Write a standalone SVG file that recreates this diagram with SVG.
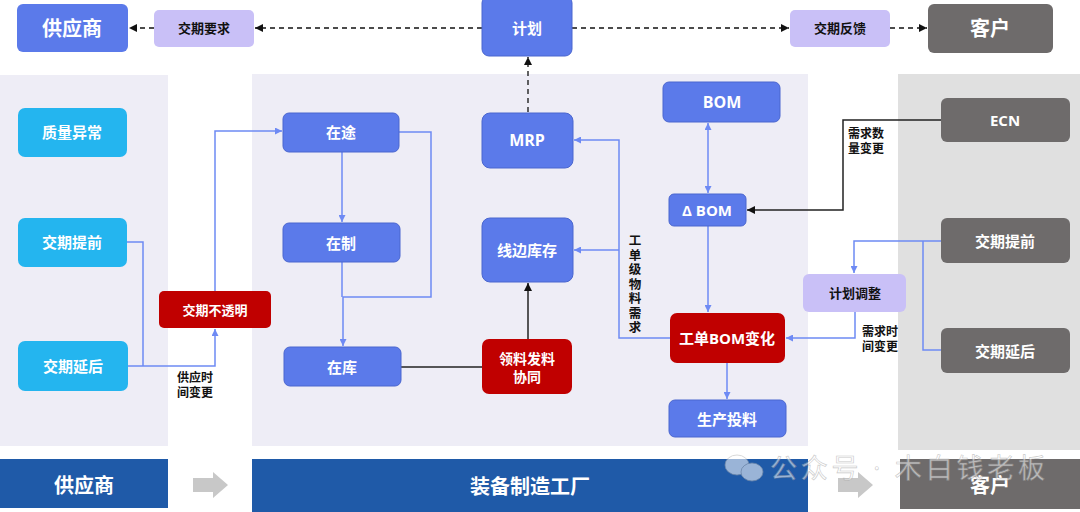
<svg xmlns="http://www.w3.org/2000/svg" width="1080" height="512" viewBox="0 0 1080 512">
<defs>
<style>
text{font-family:"Open Sans","Noto Sans CJK SC",sans-serif;font-weight:bold;text-anchor:middle;dominant-baseline:central}
.w{fill:#fff;font-size:15px}
.k{fill:#111;font-size:13px}
.lb{fill:#111;font-size:12px;text-anchor:start;dominant-baseline:auto}
.blue{fill:#5B7AEA;stroke:#4A66CF;stroke-width:1}
.cyan{fill:#24B5EF}
.red{fill:#C00000}
.lav{fill:#C9C0F7}
.gray{fill:#6E6B6B}
.bl{fill:none;stroke:#6E8AF4;stroke-width:1.5}
.bk{fill:none;stroke:#222;stroke-width:1.5}
.dash{fill:none;stroke:#111;stroke-width:1.3;stroke-dasharray:5 4}
.big{font-size:20px}
</style>
<marker id="ab" viewBox="0 0 10 10" refX="10" refY="5" markerWidth="7" markerHeight="7" orient="auto-start-reverse" markerUnits="userSpaceOnUse"><path d="M0,0L10,5L0,10z" fill="#6E8AF4"/></marker>
<marker id="ak" viewBox="0 0 10 10" refX="10" refY="5" markerWidth="8" markerHeight="8" orient="auto-start-reverse" markerUnits="userSpaceOnUse"><path d="M0,0L10,5L0,10z" fill="#111"/></marker>
</defs>
<rect width="1080" height="512" fill="#fff"/>
<g id="panels">
<rect x="0" y="75" width="168" height="371" fill="#EEEDF6"/>
<rect x="252" y="74" width="556" height="372" fill="#EEEDF6"/>
<rect x="898" y="74" width="182" height="376" fill="#E0E0E0"/>
</g>
<g id="connectors">
<path class="dash" d="M482,28H255" marker-end="url(#ak)"/>
<path class="dash" d="M154,28H129" marker-end="url(#ak)"/>
<path class="dash" d="M572,28H789" marker-end="url(#ak)"/>
<path class="dash" d="M890,28H927" marker-end="url(#ak)"/>
<path class="dash" d="M528,112V57" marker-end="url(#ak)"/>
<path class="bl" d="M127,242H143V366"/>
<path class="bl" d="M128,366H215V329" marker-end="url(#ab)"/>
<path class="bl" d="M215,291V131H282" marker-end="url(#ab)"/>
<path class="bl" d="M342,152V222" marker-end="url(#ab)"/>
<path class="bl" d="M342,262V297"/>
<path class="bl" d="M399,132H431V297H343V346" marker-end="url(#ab)"/>
<path class="bk" d="M401,367H482"/>
<path class="bk" d="M528,339V283" marker-end="url(#ak)"/>
<path class="bl" d="M708,123V193" marker-start="url(#ab)" marker-end="url(#ab)"/>
<path class="bl" d="M708,226V312" marker-end="url(#ab)"/>
<path class="bl" d="M727,363V399" marker-end="url(#ab)"/>
<path class="bl" d="M670,338H619V140H574" marker-end="url(#ab)"/>
<path class="bl" d="M619,250H574" marker-end="url(#ab)"/>
<path class="bk" d="M941,120H843V210H747" marker-end="url(#ak)"/>
<path class="bl" d="M941,241H854V273" marker-end="url(#ab)"/>
<path class="bl" d="M941,350H923V241"/>
<path class="bl" d="M855,312V338H786" marker-end="url(#ab)"/>
</g>
<g id="labels">
<text class="lb" x="177" y="382">供应时</text>
<text class="lb" x="177" y="397">间变更</text>
<text class="lb" x="848" y="138">需求数</text>
<text class="lb" x="848" y="153">量变更</text>
<text class="lb" x="862" y="336">需求时</text>
<text class="lb" x="862" y="351">间变更</text>
<text x="634" y="234" style="writing-mode:vertical-rl;text-anchor:start;font-size:12.5px;letter-spacing:2px;fill:#111">工单级物料需求</text>
</g>
<g id="top-supplier"><rect x="17" y="4" width="111" height="48" rx="6" fill="#5B7AEA"/><text class="w big" x="72" y="28">供应商</text></g>
<g id="req"><rect class="lav" x="154" y="10" width="100" height="37" rx="5"/><text class="k" x="204" y="28">交期要求</text></g>
<g id="plan"><rect class="blue" x="482" y="-4" width="90" height="60" rx="7"/><text class="w" x="527" y="28">计划</text></g>
<g id="feedback"><rect class="lav" x="790" y="10" width="100" height="37" rx="5"/><text class="k" x="840" y="28">交期反馈</text></g>
<g id="top-customer"><rect class="gray" x="928" y="4" width="125" height="49" rx="6"/><text class="w big" x="990" y="28">客户</text></g>
<g id="quality"><rect class="cyan" x="18" y="108" width="109" height="49" rx="7"/><text class="w" x="72" y="132">质量异常</text></g>
<g id="s-early"><rect class="cyan" x="18" y="218" width="109" height="49" rx="7"/><text class="w" x="72" y="242">交期提前</text></g>
<g id="s-late"><rect class="cyan" x="18" y="341" width="110" height="50" rx="7"/><text class="w" x="73" y="366">交期延后</text></g>
<g id="opaque"><rect class="red" x="159" y="291" width="112" height="37" rx="5"/><text class="w" x="215" y="310" style="font-size:13px">交期不透明</text></g>
<g id="transit"><rect class="blue" x="283" y="113" width="116" height="39" rx="6"/><text class="w" x="341" y="132">在途</text></g>
<g id="wip"><rect class="blue" x="283" y="223" width="117" height="39" rx="6"/><text class="w" x="341" y="243">在制</text></g>
<g id="stock"><rect class="blue" x="284" y="347" width="117" height="39" rx="6"/><text class="w" x="342" y="367">在库</text></g>
<g id="mrp"><rect class="blue" x="482" y="113" width="91" height="55" rx="8"/><text class="w" x="527" y="140" style="font-size:16px">MRP</text></g>
<g id="line-stock"><rect class="blue" x="482" y="218" width="91" height="64" rx="8"/><text class="w" x="527" y="250">线边库存</text></g>
<g id="issue"><rect class="red" x="482" y="339" width="90" height="55" rx="7"/><text class="w" x="527" y="358" style="font-size:14px">领料发料</text><text class="w" x="527" y="376" style="font-size:14px">协同</text></g>
<g id="bom"><rect class="blue" x="663" y="82" width="117" height="40" rx="6"/><text class="w" x="722" y="102" style="font-size:16px">BOM</text></g>
<g id="dbom"><rect class="blue" x="669" y="194" width="77" height="32" rx="5"/><text class="w" x="707" y="210">Δ BOM</text></g>
<g id="wo-bom"><rect class="red" x="670" y="313" width="115" height="50" rx="7"/><text class="w" x="727" y="338">工单BOM变化</text></g>
<g id="feed"><rect class="blue" x="669" y="400" width="117" height="37" rx="6"/><text class="w" x="727" y="419">生产投料</text></g>
<g id="adjust"><rect class="lav" x="803" y="274" width="103" height="38" rx="6"/><text class="k" x="855" y="293">计划调整</text></g>
<g id="ecn"><rect class="gray" x="941" y="98" width="129" height="44" rx="6"/><text class="w" x="1005" y="120">ECN</text></g>
<g id="c-early"><rect class="gray" x="941" y="218" width="129" height="45" rx="6"/><text class="w" x="1005" y="241">交期提前</text></g>
<g id="c-late"><rect class="gray" x="941" y="328" width="129" height="45" rx="6"/><text class="w" x="1005" y="351">交期延后</text></g>
<g id="bottom">
<rect x="0" y="459" width="168" height="49" fill="#1F5AA8"/>
<text class="w big" x="84" y="485">供应商</text>
<path d="M193,478H213V472L228,485L213,498V492H193z" fill="#C8C8C8"/>
<rect x="252" y="459" width="556" height="53" fill="#1F5AA8"/>
<text class="w big" x="530" y="486">装备制造工厂</text>
<path d="M838,478H858V472L873,485L858,498V492H838z" fill="#C8C8C8"/>
<rect x="900" y="459" width="180" height="50" fill="#6E6B6B"/>
<text class="w big" x="990" y="485">客户</text>
</g>
<g id="watermark" opacity="0.55">
<ellipse cx="737" cy="465" rx="12" ry="10" fill="#fff" stroke="#aaa" stroke-width="0.8"/>
<ellipse cx="752" cy="472" rx="11" ry="9" fill="#fff" stroke="#aaa" stroke-width="0.8"/>
<text x="770" y="467" textLength="275" lengthAdjust="spacing" style="font-size:27px;font-weight:normal;text-anchor:start;fill:#fff;stroke:#999;stroke-width:0.6">公众号 · 木白钱老板</text>
</g>
</svg>
